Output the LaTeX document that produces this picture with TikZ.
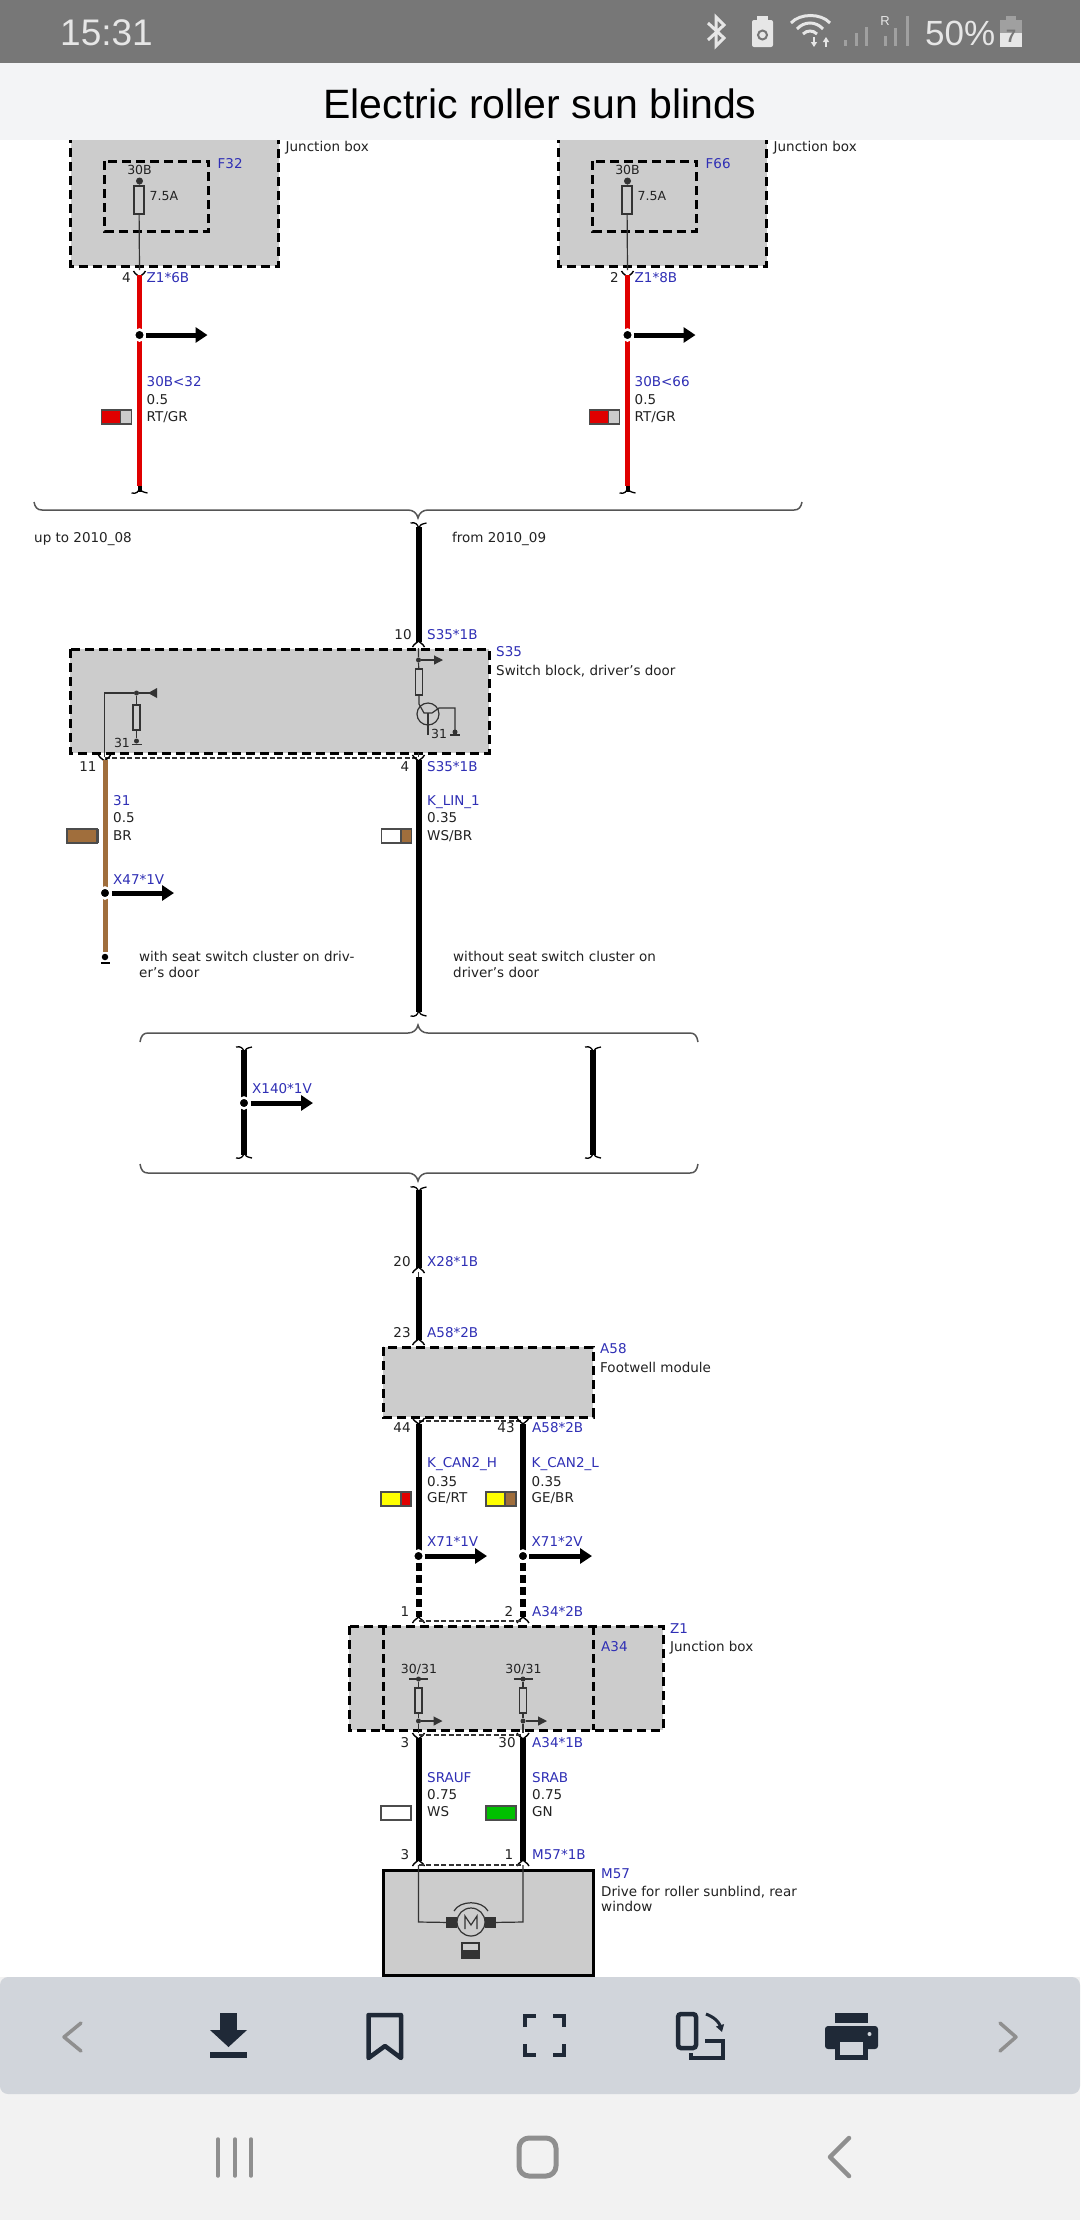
\documentclass[tikz,border=0pt]{standalone}
\usepackage{fontspec}
\setmainfont{DejaVu Sans}
\newfontfamily\uifont{Liberation Sans}
\usetikzlibrary{arrows.meta}
\definecolor{cblue}{HTML}{2F2FB5}
\definecolor{ctxt}{HTML}{222222}
\definecolor{cbox}{HTML}{CCCCCC}
\definecolor{cred}{HTML}{E00000}
\definecolor{cbrown}{HTML}{A06E3C}
\definecolor{cyell}{HTML}{FFFF00}
\definecolor{cgreen}{HTML}{00C000}
\definecolor{cthin}{HTML}{333333}
\definecolor{cbrace}{HTML}{555555}
\definecolor{cbar}{HTML}{777777}
\definecolor{chead}{HTML}{F3F4F6}
\definecolor{ctool}{HTML}{D1D5DB}
\definecolor{cnav}{HTML}{F2F2F2}
\definecolor{cicon}{HTML}{1F2937}
\definecolor{cgrayicon}{HTML}{8F8F8F}
\definecolor{cstat}{HTML}{E6E6E6}
\definecolor{cdim}{HTML}{A0A0A0}
\tikzset{
 lbl/.style={anchor=west,inner sep=0pt,text height=9.5pt,text depth=0pt,font=\fontsize{13.5}{13.5}\selectfont,text=ctxt},
 blbl/.style={lbl,text=cblue},
 pin/.style={lbl,anchor=center},
 smallk/.style={lbl,anchor=center,font=\fontsize{12.5}{12.5}\selectfont},
 ctrl/.style={draw=black,dash pattern=on 9pt off 5pt,line width=3pt,fill=cbox},
 ctrlnf/.style={draw=black,dash pattern=on 9pt off 5pt,line width=3pt},
 solidbox/.style={draw=black,line width=3pt,fill=cbox},
 redw/.style={draw=cred,line width=5pt},
 blkw/.style={draw=black,line width=6pt},
 brnw/.style={draw=cbrown,line width=5pt},
 thin1/.style={draw=cthin,line width=1.2pt},
 thindash/.style={draw=cthin,line width=1.2pt,dash pattern=on 5pt off 2.5pt},
 junction/.style={circle,fill=black,draw=white,line width=2.5pt,minimum size=11pt,inner sep=0pt},
 fat/.style={draw=black,line width=5pt,-{Triangle[length=12pt,width=15pt]}},
 smallarr/.style={draw=cthin,line width=1.2pt,-{Triangle[length=9pt,width=9pt]}},
 dotn/.style={circle,fill=cthin,inner sep=0pt,minimum size=5pt},
 res/.style={draw=cthin,line width=1.2pt,fill=cbox},
 braceline/.style={draw=cbrace,line width=1.5pt},
 flick/.style={draw=black,line width=1.3pt},
 iconl/.style={draw=cicon,line width=4.5pt},
 navl/.style={draw=cgrayicon,line width=3.5pt,line cap=round,line join=round},
 stat/.style={draw=cstat,line width=3pt},
}
\newcommand{\wcap}[2]{\draw[draw=black,line width=1.4pt] ({#1-6},{#2+5}) .. controls ({#1-4},{#2+1}) and ({#1-1},{#2+1}) .. ({#1},{#2-1}) .. controls ({#1+1},{#2+1}) and ({#1+4},{#2+1}) .. ({#1+6},{#2+5});}
\newcommand{\wcup}[2]{\draw[draw=black,line width=1.4pt] ({#1-6},{#2-5}) .. controls ({#1-4},{#2-1}) and ({#1-1},{#2-1}) .. ({#1},{#2+1}) .. controls ({#1+1},{#2-1}) and ({#1+4},{#2-1}) .. ({#1+6},{#2-5});}
\newcommand{\fliktop}[2]{\draw[flick] ({#1-8},{#2-1}) .. controls ({#1-3},{#2-2}) and ({#1-1},{#2}) .. ({#1},{#2+4}) .. controls ({#1+1},{#2+1}) and ({#1+3},{#2}) .. ({#1+8},{#2-1});}
\newcommand{\flikbot}[2]{\draw[flick] ({#1-8},{#2+1}) .. controls ({#1-3},{#2+2}) and ({#1-1},{#2}) .. ({#1},{#2-4}) .. controls ({#1+1},{#2-1}) and ({#1+3},{#2}) .. ({#1+8},{#2+1});}
\newcommand{\swatch}[5]{\fill[#4] (#1,#2) rectangle (#5,{#2+14}); \fill[#3] (#5,#2) rectangle ({#1+30},{#2+14}); \draw[draw=black!70,line width=1.1pt] (#1,#2) rectangle ({#1+30},{#2+14}); \draw[draw=black!70,line width=1.1pt] (#5,#2) -- (#5,{#2+14});}
\begin{document}
\begin{tikzpicture}[x=1pt,y=-1pt]
\useasboundingbox (0,0) rectangle (1080,2220);
\fill[white] (0,0) rectangle (1080,2220);

% ---------- fuse blocks
\foreach \dx/\nm/\pn/\pc/\cn/\wn in {0/F32/4/Z1*6B/a/30B<32, 488/F66/2/Z1*8B/b/30B<66}{
 \begin{scope}[xshift=\dx pt-0.5pt]
  \draw[ctrl] (71,120) rectangle (279,266);
  \draw[ctrlnf] (105,161) rectangle (209,231);
  \node[blbl] (fu\cn) at (218,164) {\nm};
  \node[lbl] (jb\cn) at (286,147) {Junction box};
  \node[smallk] (t30\cn) at (140,170) {30B};
  \node[smallk,anchor=west] (amp\cn) at (150,196) {7.5A};
  \node[dotn,minimum size=7pt] (fd\cn) at (140,181) {};
  \node[res,minimum width=10pt,minimum height=28pt,inner sep=0pt] (fr\cn) at (139.5,200) {};
  \coordinate (ft\cn) at (140,270);
  \draw[thin1] (fd\cn) -- (fr\cn) -- (ft\cn);
  \wcup{140}{276}
  \node[pin] (p\cn) at (127,278) {\pn};
  \node[blbl] (c\cn) at (147,278) {\pc};
  \coordinate (wt\cn) at (140,275); \coordinate (wb\cn) at (140,486); \coordinate (we\cn) at (140,492);
  \draw[redw] (wt\cn) -- (wb\cn);
  \draw[blkw,line width=4pt] (wb\cn) -- (we\cn);
  \flikbot{140}{492}
  \node[junction] (j\cn) at (140,335) {};
  \coordinate (ae\cn) at (208,335);
  \draw[fat] (j\cn.east) -- (ae\cn);
  \node[blbl] (wn\cn) at (147,382) {\wn};
  \node[lbl] (ws\cn) at (147,400) {0.5};
  \node[lbl] (wc\cn) at (147,417) {RT/GR};
  \swatch{102}{410}{cbox}{cred}{121}
 \end{scope}
}

% ---------- brace 1
\node[inner sep=0pt] (b1c) at (418,518) {};
\draw[braceline] (34,502) .. controls (35,507) and (37,510) .. (42,510) -- (408,510) .. controls (413,510) and (417,513) .. (b1c.center) .. controls (419,513) and (423,510) .. (428,510) -- (794,510) .. controls (799,510) and (801,507) .. (802,502);
\node[lbl,anchor=west] (upto) at (34,538) {up to 2010\_08};
\node[lbl] (from) at (452,538) {from 2010\_09};

% ---------- S35
\draw[ctrl] (70,649) rectangle (489,753);
\node[blbl] (s35) at (496,652) {S35};
\node[lbl] (s35d) at (496,671) {Switch block, driver's door};
\node[pin] (p10) at (403,635) {10};
\node[blbl] (c10) at (427,635) {S35*1B};
\coordinate (w2t) at (418.5,527); \coordinate (w2b) at (418.5,642);
\draw[blkw] (w2t) -- (w2b);
\fliktop{418.5}{524}
\wcap{418.5}{642}
% right internal
\node[dotn] (sd1) at (418.5,660) {};
\coordinate (sttop) at (418.5,648);
\node[res,minimum width=7pt,minimum height=26pt,inner sep=0pt] (sr1) at (419,682) {};
\coordinate (sa1) at (443,660);
\draw[thin1] (sttop) -- (sd1) -- (sr1);
\draw[smallarr] (sd1) -- (sa1);
\node[draw=cthin,line width=1.2pt,circle,minimum size=22pt,inner sep=0pt] (tr) at (428,714) {};
\coordinate (tb1) at (419,704);
\draw[thin1] (sr1) -- (tb1) -- (424,713) -- (432,713) -- (439,708) -- (455,708) -- (455,732);
\draw[thin1] (428,713) -- (428,735);
\node[dotn] (gd2) at (455,732) {};
\draw[thin1] (450,735) -- (460,735);
\node[smallk] (s31r) at (439,734) {31};
% left internal
\coordinate (sl0) at (104.5,753); \coordinate (sl1) at (104.5,693);
\node[dotn] (sd2) at (136.5,693) {};
\coordinate (sl2) at (157,693);
\draw[thin1] (sl0) -- (sl1) -- (sd2) -- (sl2);
\fill[cthin] (148,693) -- (157,688) -- (157,698) -- cycle;
\node[res,minimum width=7pt,minimum height=25pt,inner sep=0pt] (sr2) at (136.5,717.5) {};
\node[dotn] (gd1) at (136.5,741) {};
\draw[thin1] (sd2) -- (sr2) -- (gd1);
\draw[thin1] (132,744.5) -- (142,744.5);
\node[smallk] (s31l) at (122,743) {31};
% bottom
\coordinate (sbl) at (104.5,758); \coordinate (sbr) at (418.5,758);
\draw[thindash] (sbl) -- (sbr);
\draw[thin1] (104.5,753) -- (104.5,757);
\draw[thin1] (418.5,753) -- (418.5,757);
\wcup{104.5}{760} \wcup{418.5}{760}
\node[pin] (p11) at (88,767) {11};
\node[pin] (p4) at (405,767) {4};
\node[blbl] (c4) at (427,767) {S35*1B};
% brown wire
\coordinate (brt) at (105,760); \coordinate (brb) at (105,952);
\draw[brnw] (brt) -- (brb);
\node[junction] (jbr) at (105,893) {};
\coordinate (abr) at (174,893);
\draw[fat] (jbr.east) -- (abr);
\node[circle,fill=black,inner sep=0pt,minimum size=6.5pt] (endd) at (105,957) {};
\draw[black,line width=2.5pt] (101,963) -- (110,963);
\node[blbl] (n31) at (113,801) {31};
\node[lbl] (n05) at (113,818) {0.5};
\node[lbl] (nbr) at (113,836) {BR};
\swatch{67}{829}{cbrown}{cbrown}{98}
\node[blbl] (x47) at (113,880) {X47*1V};
\node[lbl] (wa1) at (139,957) {with seat switch cluster on driv-};
\node[lbl] (wa2) at (139,973) {er's door};
% lin wire
\coordinate (lnt) at (418.5,760); \coordinate (lnb) at (418.5,1012);
\draw[blkw] (lnt) -- (lnb);
\flikbot{418.5}{1015}
\node[blbl] (klin) at (427,801) {K\_LIN\_1};
\node[lbl] (k035) at (427,818) {0.35};
\node[lbl] (kws) at (427,836) {WS/BR};
\swatch{381.5}{829}{cbrown}{white}{401}
\node[lbl] (wo1) at (453,957) {without seat switch cluster on};
\node[lbl] (wo2) at (453,973) {driver's door};

% ---------- brace 2 / 3
\draw[braceline] (140,1042) .. controls (141,1036) and (143,1033) .. (148,1033) -- (408,1033) .. controls (413,1033) and (417,1030) .. (418,1025) .. controls (419,1030) and (423,1033) .. (428,1033) -- (690,1033) .. controls (695,1033) and (697,1036) .. (698,1042);
\draw[braceline] (140,1164) .. controls (141,1170) and (143,1173) .. (148,1173) -- (408,1173) .. controls (413,1173) and (417,1176) .. (418,1181) .. controls (419,1176) and (423,1173) .. (428,1173) -- (690,1173) .. controls (695,1173) and (697,1170) .. (698,1164);
\coordinate (ml1) at (244,1050); \coordinate (ml2) at (244,1155);
\draw[blkw] (ml1) -- (ml2);
\fliktop{244}{1048} \flikbot{244}{1157}
\node[junction] (jm) at (244,1103) {};
\coordinate (am) at (313,1103);
\draw[fat] (jm.east) -- (am);
\node[blbl] (x140) at (252,1089) {X140*1V};
\coordinate (mr1) at (593,1050); \coordinate (mr2) at (593,1155);
\draw[blkw] (mr1) -- (mr2);
\fliktop{593}{1048} \flikbot{593}{1157}

% ---------- to A58
\coordinate (w3a) at (418.5,1190); \coordinate (w3b) at (418.5,1268);
\coordinate (w3c) at (418.5,1277); \coordinate (w3d) at (418.5,1340);
\draw[blkw] (w3a) -- (w3b);
\draw[blkw] (w3c) -- (w3d);
\fliktop{418.5}{1188}
\wcap{418.5}{1268}
\draw[thin1] (418.5,1272) -- (w3c);
\wcap{418.5}{1340}
\node[pin] (p20) at (402,1262) {20};
\node[blbl] (x28) at (427,1262) {X28*1B};
\node[pin] (p23) at (402,1333) {23};
\node[blbl] (a58t) at (427,1333) {A58*2B};
\draw[ctrl] (383,1347) rectangle (593,1417);
\node[blbl] (a58) at (600,1349) {A58};
\node[lbl] (a58d) at (600,1368) {Footwell module};
\coordinate (dcl) at (418.5,1421); \coordinate (dcr) at (523,1421);
\draw[thindash] (dcl) -- (dcr);
\wcup{418.5}{1423} \wcup{523}{1423}
\node[pin] (p44) at (402,1428) {44};
\node[pin] (p43) at (506,1428) {43};
\node[blbl] (a58b) at (532,1428) {A58*2B};
% can wires
\foreach \xx/\nn/\cc/\sx/\sp/\col/\ax/\xl in {418.5/K\_CAN2\_H/GE\slash RT/381/401/cred/487/X71*1V, 523/K\_CAN2\_L/GE\slash BR/486/505/cbrown/592/X71*2V}{
 \begin{scope}[xshift=\xx pt]
  \coordinate (cw1) at (0,1424); \coordinate (cw2) at (0,1556); \coordinate (cw3) at (0,1563); \coordinate (cw4) at (0,1617);
  \draw[blkw] (cw1) -- (cw2);
  \draw[blkw,dash pattern=on 8pt off 4pt] (cw3) -- (cw4);
  \node[junction] (jc) at (0,1556) {};
  \wcap{0}{1618}
 \end{scope}
 \node[blbl] (nn\sx) at ({\xx+8.5},1463) {\nn};
 \node[lbl] (nsz\sx) at ({\xx+8.5},1482) {0.35};
 \node[lbl] (ncc\sx) at ({\xx+8.5},1498) {\cc};
 \node[blbl] (nxl\sx) at ({\xx+8.5},1542) {\xl};
 \swatch{\sx}{1492}{\col}{cyell}{\sp}
 \coordinate (cs\sx) at ({\xx+6},1556); \coordinate (ce\sx) at (\ax,1556);
 \draw[fat] (cs\sx) -- (ce\sx);
}
\node[pin] (p1) at (405,1612) {1};
\node[pin] (p2) at (509,1612) {2};
\node[blbl] (a34t) at (532,1612) {A34*2B};
\coordinate (dtl) at (418.5,1621); \coordinate (dtr) at (523,1621);
\draw[thindash] (dtl) -- (dtr);

% ---------- Z1 / A34
\draw[ctrl] (349,1626) rectangle (663,1730);
\draw[ctrlnf] (383,1626) -- (383,1730);
\draw[ctrlnf] (593,1626) -- (593,1730);
\node[blbl] (z1) at (670,1629) {Z1};
\node[lbl] (z1d) at (670,1647) {Junction box};
\node[blbl] (a34) at (601,1647) {A34};
\foreach \xx/\i in {418.5/a,523/b}{
 \node[smallk] (t3\i) at ({\xx+0.5},1669) {30/31};
 \node[dotn] (zd\i) at (\xx,1679) {};
 \draw[thin1] ({\xx-9.5},1679) -- ({\xx+9.5},1679);
 \node[res,minimum width=7pt,minimum height=25pt,inner sep=0pt] (zr\i) at (\xx,1700.5) {};
 \node[dotn] (ze\i) at (\xx,1721) {};
 \coordinate (zb\i) at (\xx,1733);
 \coordinate (za\i) at ({\xx+24},1721);
 \draw[thin1] (zd\i) -- (zr\i) -- (ze\i) -- (zb\i);
 \draw[smallarr] (ze\i) -- (za\i);
 \wcup{\xx}{1738}
 \coordinate (lw1\i) at (\xx,1738); \coordinate (lw2\i) at (\xx,1861);
 \draw[blkw] (lw1\i) -- (lw2\i);
 \wcap{\xx}{1861}
}
\coordinate (d3l) at (418.5,1735); \coordinate (d3r) at (523,1735);
\draw[thindash] (d3l) -- (d3r);
\node[pin] (p3a) at (405,1743) {3};
\node[pin] (p30) at (507,1743) {30};
\node[blbl] (a34b) at (532,1743) {A34*1B};
\node[blbl] (srauf) at (427,1778) {SRAUF};
\node[lbl] (sz1) at (427,1795) {0.75};
\node[lbl] (ws) at (427,1812) {WS};
\swatch{381}{1806}{white}{white}{411}
\node[blbl] (srab) at (532,1778) {SRAB};
\node[lbl] (sz2) at (532,1795) {0.75};
\node[lbl] (gn) at (532,1812) {GN};
\swatch{486}{1806}{cgreen}{cgreen}{516}
\node[pin] (p3b) at (405,1855) {3};
\node[pin] (p1b) at (509,1855) {1};
\node[blbl] (m57t) at (532,1855) {M57*1B};
\coordinate (d4l) at (418.5,1865); \coordinate (d4r) at (523,1865);
\draw[thindash] (d4l) -- (d4r);

% ---------- M57
\draw[solidbox] (383,1870) rectangle (593,1975);
\node[blbl] (m57) at (601,1874) {M57};
\node[lbl] (m57d) at (601,1892) {Drive for roller sunblind, rear};
\node[lbl] (m57e) at (601,1907) {window};
\node[draw=cthin,line width=1.2pt,circle,minimum size=28pt,inner sep=0pt] (mot) at (471,1922) {};
\node[fill=cthin,minimum width=11pt,minimum height=11pt,inner sep=0pt] (mbl) at (451.5,1922.5) {};
\node[fill=cthin,minimum width=11pt,minimum height=11pt,inner sep=0pt] (mbr) at (490,1922.5) {};
\coordinate (ml0) at (418.5,1865); \coordinate (ml3) at (418.5,1922);
\coordinate (mr0) at (523,1865); \coordinate (mr3) at (523,1922);
\draw[thin1] (ml0) -- (ml3) -- (mbl);
\draw[thin1] (mr0) -- (mr3) -- (mbr);
\draw[thin1] (454,1911) .. controls (460,1900) and (482,1900) .. (488,1911);
\draw[thin1] (465,1929) -- (465,1916) -- (471,1925) -- (477,1916) -- (477,1929);
\fill[cthin] (462,1950) rectangle (479,1958);
\draw[draw=cthin,line width=1.2pt] (462,1943) rectangle (479,1958);

% ---------- phone chrome
\fill[cbar] (0,0) rectangle (1080,63);
\fill[chead] (0,63) rectangle (1080,140);
\node[inner sep=0pt,text=black,font=\uifont\fontsize{41}{41}\selectfont] (title) at (540,104) {Electric roller sun blinds};
\node[anchor=west,inner sep=0pt,text=cstat,font=\uifont\fontsize{37}{37}\selectfont] (clock) at (60,33) {15:31};
\node[anchor=west,inner sep=0pt,text=cstat,font=\uifont\fontsize{35}{35}\selectfont] (pct) at (925,33) {50\%};
\node[inner sep=0pt,text=cstat,font=\uifont\fontsize{13}{13}\selectfont] (rr) at (885,21) {R};
% bluetooth
\draw[stat] (708,23) -- (724,38) -- (716,46) -- (716,17) -- (724,25) -- (708,40);
% saver
\fill[cstat,rounded corners=2pt] (752,20) rectangle (773,47);
\fill[cstat] (757,16) rectangle (768,21);
\draw[cbar,line width=2pt] (762.5,35) circle (4.5);
% wifi
\draw[stat] (791,23) .. controls (800,13) and (821,13) .. (830,23);
\draw[stat] (797,29) .. controls (804,21) and (816,21) .. (823,29);
\draw[stat] (803,34) .. controls (807,30) and (813,30) .. (817,34);
\draw[cstat,line width=2pt,-{Triangle[length=5pt,width=6pt]}] (814,37) -- (814,47);
\draw[cstat,line width=2pt,-{Triangle[length=5pt,width=6pt]}] (826,47) -- (826,37);
% signal
\foreach \xx/\yy in {845/40,856/33,866/27,885/36,895/28,907/16}{
 \draw[cdim,line width=3pt] (\xx,\yy) -- (\xx,46);
}
% battery
\fill[cdim] (1006,16) rectangle (1016,21);
\fill[cdim] (1000,20) rectangle (1022,33);
\fill[cstat] (1000,33) rectangle (1022,47);
\node[inner sep=0pt,text=cbar,font=\uifont\bfseries\fontsize{18}{18}\selectfont] (b7) at (1011,36) {7};

% toolbar
\fill[cnav] (0,1977) rectangle (1080,2220);
\fill[ctool,rounded corners=8pt] (0,1977) rectangle (1080,2094);
\draw[navl] (81,2023) -- (64,2037) -- (81,2051);
\draw[navl] (1000,2023) -- (1016,2037) -- (1000,2051);
% download
\fill[cicon] (220,2013) rectangle (237,2030);
\fill[cicon] (210,2030) -- (247,2030) -- (228.5,2047) -- cycle;
\fill[cicon] (210,2052) rectangle (247,2058);
% bookmark
\draw[iconl,line join=round] (368.5,2058) -- (368.5,2015) -- (401,2015) -- (401,2058) -- (385,2046) -- cycle;
% fullscreen
\draw[iconl] (525,2027) -- (525,2016) -- (536,2016);
\draw[iconl] (553,2016) -- (564,2016) -- (564,2027);
\draw[iconl] (525,2044) -- (525,2055) -- (536,2055);
\draw[iconl] (553,2055) -- (564,2055) -- (564,2044);
% rotate
\draw[iconl,rounded corners=3pt] (678,2014) rectangle (696,2048);
\draw[draw=cicon,line width=3pt,-{Triangle[length=7pt,width=8pt]}] (706,2014) .. controls (714,2017) and (719,2022) .. (722,2032);
\draw[draw=cicon,line width=4pt] (705,2041) -- (723,2041) -- (723,2058) -- (691,2058) -- (691,2053);
% printer
\fill[cicon] (835,2013) rectangle (868,2023);
\fill[cicon,rounded corners=3pt] (825,2026) rectangle (878,2049);
\fill[cicon] (835,2040) rectangle (868,2060);
\fill[ctool] (840,2042) rectangle (863,2055);
\fill[ctool] (869.5,2034) circle (2);
% nav bar
\draw[navl] (218,2139) -- (218,2176);
\draw[navl] (235,2139) -- (235,2176);
\draw[navl] (251,2139) -- (251,2176);
\draw[navl,line width=5pt,rounded corners=10pt] (519,2138) rectangle (556,2176);
\draw[navl,line width=4.5pt] (849,2138) -- (830,2157) -- (849,2176);
\end{tikzpicture}
\end{document}
